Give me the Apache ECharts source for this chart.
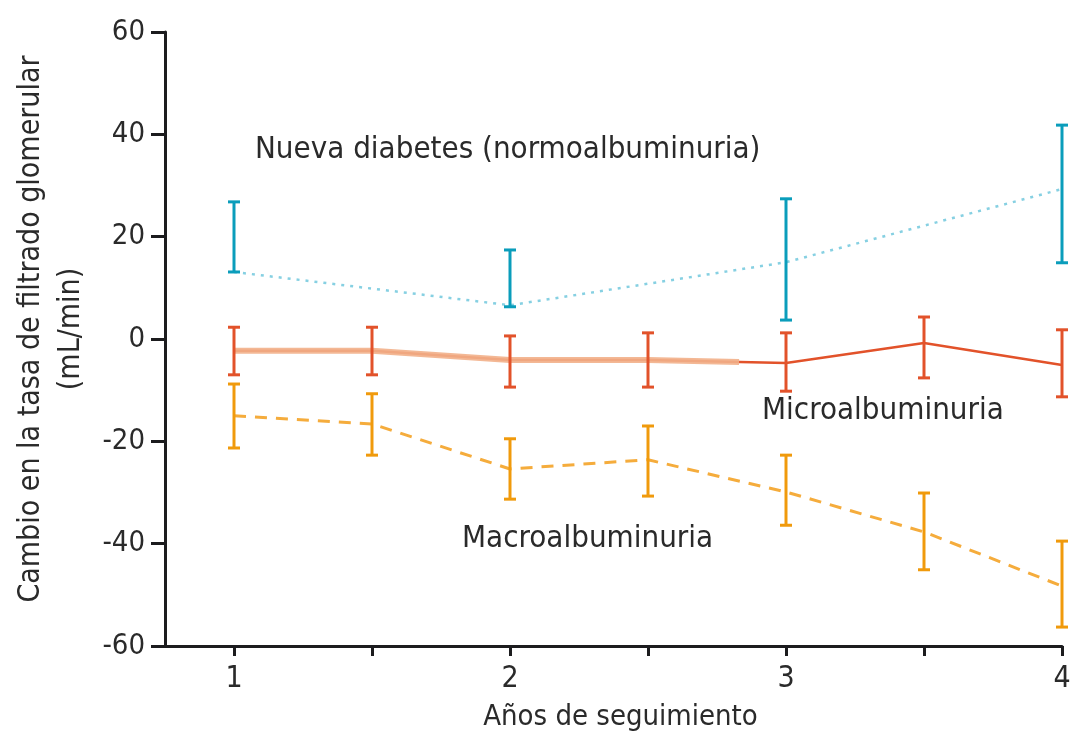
<!DOCTYPE html>
<html>
<head>
<meta charset="utf-8">
<script src="https://cdn.jsdelivr.net/npm/echarts@6/dist/echarts.min.js"></script>
<style>
  html, body { margin: 0; padding: 0; background: #fff; }
  #chart { width: 1072px; height: 733px; }
</style>
</head>
<body>
<div id="chart"></div>
<script>
// Follow-up years at which each group was measured
const yearsNueva = [1, 2, 3, 4];
const yearsHalf = [1, 1.5, 2, 2.5, 3, 3.5, 4];

// Nueva diabetes (normoalbuminuria)
const nuevaMean = [13.1, 6.6, 15.0, 29.3];
const nuevaLow  = [13.1, 6.3, 3.7, 14.9];
const nuevaHigh = [26.8, 17.4, 27.4, 41.8];

// Microalbuminuria
const microMean = [-2.3, -2.3, -4.1, -4.1, -4.7, -0.8, -5.1];
const microLow  = [-7.0, -7.0, -9.4, -9.4, -10.2, -7.6, -11.3];
const microHigh = [2.3, 2.3, 0.6, 1.2, 1.2, 4.3, 1.8];
// highlighted early stretch of the microalbuminuria trend
const microBandX = [1, 1.5, 2, 2.5, 2.83];
const microBand  = [-2.3, -2.3, -4.1, -4.1, -4.5];

// Macroalbuminuria
const macroMean = [-15.0, -16.6, -25.4, -23.6, -29.9, -37.7, -48.3];
const macroLow  = [-21.3, -22.7, -31.3, -30.7, -36.4, -45.1, -56.3];
const macroHigh = [-8.8, -10.7, -19.5, -17.0, -22.7, -30.1, -39.5];

// Axis ticks
const xTickValues = [1, 1.5, 2, 2.5, 3, 3.5, 4];
const xLabelValues = [1, 2, 3, 4];

const FONT = "'Liberation Sans Narrow', 'DejaVu Sans Condensed', sans-serif";
const INK = '#1c1c1e';
const TXT = '#2a2a2a';

const C_CYAN = '#0a9dbb', C_CYAN_LINE = '#86d0e2';
const C_RED = '#e2522a', C_SALMON = '#f2b08a';
const C_ORANGE = '#f09a0c', C_ORANGE_LINE = '#f5ac3c';

function pairs(xs, ys) { return xs.map((x, i) => [x, ys[i]]); }
function bars(xs, lo, hi) { return xs.map((x, i) => [x, lo[i], hi[i]]); }

function errorBars(name, data, color) {
  return {
    type: 'custom',
    name: name,
    data: data,
    z: 5,
    encode: { x: 0, y: [1, 2] },
    renderItem: function (params, api) {
      const x = api.value(0);
      const lo = api.coord([x, api.value(1)]);
      const hi = api.coord([x, api.value(2)]);
      const half = 6;
      const style = { stroke: color, lineWidth: 3, fill: null };
      return {
        type: 'group',
        children: [
          { type: 'line', shape: { x1: lo[0], y1: lo[1], x2: hi[0], y2: hi[1] }, style: style },
          { type: 'line', shape: { x1: hi[0] - half, y1: hi[1], x2: hi[0] + half, y2: hi[1] }, style: style },
          { type: 'line', shape: { x1: lo[0] - half, y1: lo[1], x2: lo[0] + half, y2: lo[1] }, style: style }
        ]
      };
    }
  };
}

const chart = echarts.init(document.getElementById('chart'));
chart.setOption({
  animation: false,
  backgroundColor: '#fff',
  grid: { left: 165, right: 10, top: 32, bottom: 87, outerBoundsMode: 'none', containLabel: false },
  xAxis: {
    type: 'value',
    min: 0.75,
    max: 4,
    name: 'Años de seguimiento',
    nameLocation: 'middle',
    nameGap: 57,
    nameTextStyle: { fontFamily: FONT, fontSize: 29, color: TXT, padding: [0, 0, 0, 14] },
    axisLine: { show: true, onZero: false, lineStyle: { color: INK, width: 3 } },
    axisTick: { show: true, customValues: xTickValues, length: 10, lineStyle: { color: INK, width: 3 } },
    axisLabel: { customValues: xLabelValues, margin: 18, fontFamily: FONT, fontSize: 30, color: TXT },
    splitLine: { show: false }
  },
  yAxis: {
    type: 'value',
    min: -60,
    max: 60,
    interval: 20,
    name: 'Cambio en la tasa de filtrado glomerular\n(mL/min)',
    nameLocation: 'middle',
    nameRotate: 90,
    nameGap: 74,
    nameTextStyle: { fontFamily: FONT, fontSize: 30, color: TXT, lineHeight: 40, padding: [0, 0, 0, 20] },
    axisLine: { show: true, onZero: false, lineStyle: { color: INK, width: 3 } },
    axisTick: { show: true, length: 14, lineStyle: { color: INK, width: 3 } },
    axisLabel: { margin: 20, fontFamily: FONT, fontSize: 29, color: TXT },
    splitLine: { show: false }
  },
  series: [
    {
      type: 'line', name: 'Nueva diabetes (normoalbuminuria)',
      data: pairs(yearsNueva, nuevaMean), symbol: 'none', z: 2,
      lineStyle: { color: C_CYAN_LINE, width: 2.5, type: [3, 6] }
    },
    {
      type: 'line', name: 'Microalbuminuria',
      data: pairs(yearsHalf, microMean), symbol: 'none', z: 2,
      lineStyle: { color: C_RED, width: 2.5 }
    },
    {
      type: 'line', name: 'Microalbuminuria (tramo inicial)',
      data: pairs(microBandX, microBand), symbol: 'none', z: 3,
      lineStyle: { color: C_SALMON, width: 6, opacity: 0.9 }
    },
    {
      type: 'line', name: 'Macroalbuminuria',
      data: pairs(yearsHalf, macroMean), symbol: 'none', z: 2,
      lineStyle: { color: C_ORANGE_LINE, width: 3, type: [12, 9] }
    },
    errorBars('Nueva diabetes IC', bars(yearsNueva, nuevaLow, nuevaHigh), C_CYAN),
    errorBars('Microalbuminuria IC', bars(yearsHalf, microLow, microHigh), C_RED),
    errorBars('Macroalbuminuria IC', bars(yearsHalf, macroLow, macroHigh), C_ORANGE)
  ],
  graphic: [
    { type: 'text', left: 255, top: 134, style: { text: 'Nueva diabetes (normoalbuminuria)', font: '31px ' + FONT, fill: TXT } },
    { type: 'text', left: 762, top: 395, style: { text: 'Microalbuminuria', font: '31px ' + FONT, fill: TXT } },
    { type: 'text', left: 462, top: 523, style: { text: 'Macroalbuminuria', font: '31px ' + FONT, fill: TXT } }
  ]
});
</script>
</body>
</html>
